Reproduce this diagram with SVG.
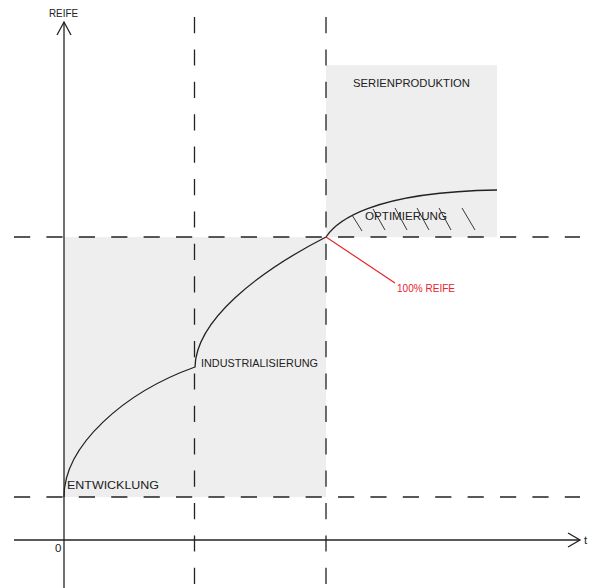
<svg xmlns="http://www.w3.org/2000/svg" width="592" height="588" viewBox="0 0 592 588">
<style>
.lbl{font-family:"Liberation Sans","Open Sans",sans-serif;font-size:11.5px;fill:#222}
.dash{stroke:#222;stroke-width:1.3;stroke-dasharray:16.2 16.2;fill:none}
.ax{stroke:#222;stroke-width:1.3;fill:none}
.hatch{stroke:#222;stroke-width:0.9}
</style>
<rect width="592" height="588" fill="#fff"/>
<g id="areas">
<rect x="64" y="237" width="262" height="260" fill="#eeeeee"/>
<rect x="326" y="65" width="171" height="172" fill="#eeeeee"/>
</g>
<g id="connectors">
<line class="dash" x1="14" y1="237" x2="580" y2="237"/>
<line class="dash" x1="14" y1="497" x2="580" y2="497"/>
<line class="dash" x1="194.5" y1="17" x2="194.5" y2="588"/>
<line class="dash" x1="326" y1="17" x2="326" y2="588"/>
<line class="ax" x1="64" y1="588" x2="64" y2="22"/>
<polyline class="ax" points="57,35 64,22 71,35"/>
<line class="ax" x1="14" y1="540" x2="580" y2="540"/>
<polyline class="ax" points="568,533 580,540 568,547"/>
<path class="ax" d="M64,497 C64,445 125,392 195,367 C196,320 258,272 326,237 C336,222 370,192 497,190"/>
<g id="hatches">
<line class="hatch" x1="352" y1="215" x2="362" y2="231"/>
<line class="hatch" x1="373" y1="209" x2="385" y2="230"/>
<line class="hatch" x1="395" y1="208" x2="407" y2="230"/>
<line class="hatch" x1="417" y1="208" x2="429" y2="230"/>
<line class="hatch" x1="439" y1="208" x2="451" y2="230"/>
<line class="hatch" x1="462" y1="208" x2="475" y2="230"/>
</g>
<line x1="326" y1="237" x2="395" y2="283" stroke="#e8232b" stroke-width="1.2"/>
</g>
<g id="reife-axis"><text class="lbl" x="49" y="17" textLength="29" lengthAdjust="spacingAndGlyphs">REIFE</text></g>
<g id="t-axis"><text class="lbl" x="584" y="544">t</text></g>
<g id="zero"><text class="lbl" x="55" y="552">0</text></g>
<g id="entwicklung"><text class="lbl" x="67" y="489" textLength="92" lengthAdjust="spacingAndGlyphs">ENTWICKLUNG</text></g>
<g id="industrialisierung"><text class="lbl" x="201" y="367" textLength="117" lengthAdjust="spacingAndGlyphs">INDUSTRIALISIERUNG</text></g>
<g id="serienproduktion"><text class="lbl" x="353" y="87" textLength="117" lengthAdjust="spacingAndGlyphs">SERIENPRODUKTION</text></g>
<g id="optimierung"><text class="lbl" x="365" y="220" textLength="82" lengthAdjust="spacingAndGlyphs">OPTIMIERUNG</text></g>
<g id="reife100"><text class="lbl" x="397" y="292" textLength="58" lengthAdjust="spacingAndGlyphs" style="fill:#e8232b">100% REIFE</text></g>
</svg>
